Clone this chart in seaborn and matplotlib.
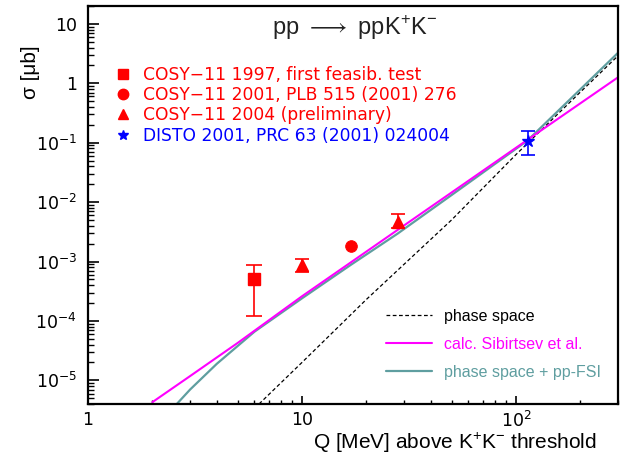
import matplotlib
matplotlib.use("Agg")
import matplotlib.pyplot as plt
from matplotlib.lines import Line2D
from matplotlib.ticker import FixedLocator, FixedFormatter, NullFormatter, LogLocator
import numpy as np
import pandas as pd
import seaborn as sns

# --- measured cross sections: Q [MeV], sigma [ub], lower / upper error bounds
cosy97_q = [6.0]
cosy97_sig = [5.0e-4]
cosy97_lo = [1.2e-4]
cosy97_hi = [8.8e-4]

cosy01_q = [17.0]
cosy01_sig = [1.8e-3]

cosy04_q = [10.0, 28.0]
cosy04_sig = [8.6e-4, 4.7e-3]
cosy04_lo = [6.7e-4, 3.7e-3]
cosy04_hi = [1.12e-3, 6.2e-3]

disto_q = [114.0]
disto_sig = [0.105]
disto_lo = [0.063]
disto_hi = [0.155]

# --- calculated curves
phase_q = [6.3, 10, 20, 50, 100, 200, 300]
phase_sig = [4.0e-6, 2.0e-5, 2.3e-4, 5.0e-3, 0.063, 0.71, 2.9]

sibirtsev_q = [2, 3, 5, 10, 20, 50, 100, 200, 300]
sibirtsev_sig = [4.3e-6, 1.18e-5, 4.25e-5, 2.6e-4, 1.47e-3, 1.45e-2, 8.2e-2, 0.46, 1.26]

fsi_q = [2.6, 3, 4, 6, 10, 17, 28, 57, 113, 200, 300]
fsi_sig = [4.0e-6, 7.0e-6, 1.9e-5, 6.6e-5, 2.4e-4, 8.9e-4, 2.95e-3, 1.84e-2, 0.108, 0.79, 3.26]

x_ticks = [1, 10, 100]
x_tick_labels = ["1", "10", r"$\mathregular{10^{2}}$"]
y_ticks = [1e-5, 1e-4, 1e-3, 1e-2, 1e-1, 1, 10]
y_tick_labels = [r"$\mathregular{10^{-5}}$", r"$\mathregular{10^{-4}}$",
                 r"$\mathregular{10^{-3}}$", r"$\mathregular{10^{-2}}$",
                 r"$\mathregular{10^{-1}}$", "1", "10"]

RED = "#ff0000"
BLUE = "#0000ff"
MAGENTA = "#ff00ff"
TEAL = "#5f9ea0"

sns.set_theme(style="white")
plt.rcParams["font.family"] = ["Liberation Sans", "DejaVu Sans"]
plt.rcParams["mathtext.fontset"] = "custom"
plt.rcParams["mathtext.rm"] = "Liberation Sans"

fig = plt.figure(figsize=(6.4, 4.57), dpi=100)
ax = fig.add_axes([88 / 640, 1 - 404 / 457, 530 / 640, 398 / 457])
ax.set_xscale("log")
ax.set_yscale("log")

curves = pd.concat([
    pd.DataFrame({"Q": phase_q, "sigma": phase_sig, "model": "phase space"}),
    pd.DataFrame({"Q": sibirtsev_q, "sigma": sibirtsev_sig, "model": "calc. Sibirtsev et al."}),
    pd.DataFrame({"Q": fsi_q, "sigma": fsi_sig, "model": "phase space + pp-FSI"}),
])
sns.lineplot(data=curves[curves.model == "phase space"], x="Q", y="sigma",
             color="black", lw=0.9, linestyle=(0, (3, 2)), estimator=None,
             sort=False, ax=ax, legend=False)
sns.lineplot(data=curves[curves.model == "phase space + pp-FSI"], x="Q", y="sigma",
             color=TEAL, lw=1.6, estimator=None, sort=False, ax=ax, legend=False)
sns.lineplot(data=curves[curves.model == "calc. Sibirtsev et al."], x="Q", y="sigma",
             color=MAGENTA, lw=1.5, estimator=None, sort=False, ax=ax, legend=False)


def asym_err(sig, lo, hi):
    sig = np.asarray(sig)
    return [sig - np.asarray(lo), np.asarray(hi) - sig]


ax.errorbar(cosy97_q, cosy97_sig, yerr=asym_err(cosy97_sig, cosy97_lo, cosy97_hi),
            fmt="s", color=RED, ms=9, elinewidth=1.2, capsize=6, capthick=1.2, zorder=5)
ax.errorbar(cosy04_q, cosy04_sig, yerr=asym_err(cosy04_sig, cosy04_lo, cosy04_hi),
            fmt="^", color=RED, ms=9, elinewidth=1.2, capsize=5, capthick=1.2, zorder=5)
sns.scatterplot(x=cosy01_q, y=cosy01_sig, marker="o", color=RED, s=70,
                edgecolor=RED, ax=ax, zorder=5)
ax.errorbar(disto_q, disto_sig, yerr=asym_err(disto_sig, disto_lo, disto_hi),
            fmt="*", color=BLUE, ms=9, elinewidth=1.2, capsize=5, capthick=1.2, zorder=6)

ax.set_xlim(1, 300)
ax.set_ylim(4e-6, 20)

ax.xaxis.set_major_locator(FixedLocator(x_ticks))
ax.xaxis.set_major_formatter(FixedFormatter(x_tick_labels))
ax.xaxis.set_minor_locator(LogLocator(base=10, subs=np.arange(2, 10), numticks=20))
ax.xaxis.set_minor_formatter(NullFormatter())
ax.yaxis.set_major_locator(FixedLocator(y_ticks))
ax.yaxis.set_major_formatter(FixedFormatter(y_tick_labels))
ax.yaxis.set_minor_locator(LogLocator(base=10, subs=np.arange(2, 10), numticks=20))
ax.yaxis.set_minor_formatter(NullFormatter())
ax.tick_params(axis="both", which="both", direction="in", colors="black",
               labelsize=12.5, labelfontfamily="DejaVu Sans",
               bottom=True, left=True, top=False, right=False)
ax.tick_params(axis="y", which="major", length=8, width=1.2, pad=8)
ax.tick_params(axis="y", which="minor", length=4.5, width=1.0)
ax.tick_params(axis="x", which="major", length=5.5, width=1.2, pad=5)
ax.tick_params(axis="x", which="minor", length=2.8, width=1.0)
for side in ["left", "right", "top", "bottom"]:
    ax.spines[side].set_visible(True)
    ax.spines[side].set_color("black")
    ax.spines[side].set_linewidth(1.6)

ax.set_xlabel("")
ax.set_ylabel("")
fig.text(597 / 640, 1 - 449 / 457, r"Q [MeV] above K$^{+}$K$^{-}$ threshold",
         ha="right", va="baseline", fontsize=15, color="black")
fig.text(30 / 640, 1 - 72 / 457, "σ [μb]", rotation=90, ha="center", va="center",
         fontsize=15, color="black")
ax.text(0.504, 0.945, r"pp $\longrightarrow$ ppK$^{+}$K$^{-}$", transform=ax.transAxes,
        ha="center", va="center", fontsize=17, color="#222222")

# data legend (markers only)
data_handles = [
    Line2D([], [], ls="none", marker="s", color=RED, ms=7.5),
    Line2D([], [], ls="none", marker="o", color=RED, ms=7.5),
    Line2D([], [], ls="none", marker="^", color=RED, ms=7.5),
    Line2D([], [], ls="none", marker="*", color=BLUE, ms=7.5),
]
data_labels = [
    "COSY−11 1997, first feasib. test",
    "COSY−11 2001, PLB 515 (2001) 276",
    "COSY−11 2004 (preliminary)",
    "DISTO 2001, PRC 63 (2001) 024004",
]
leg1 = ax.legend(data_handles, data_labels, loc="upper left",
                 bbox_to_anchor=((115 - 88) / 530, (404 - 66) / 398), frameon=False,
                 prop={"family": "DejaVu Sans", "size": 12.3},
                 handlelength=0.9, handletextpad=0.75, labelspacing=0.13,
                 borderaxespad=0, borderpad=0,
                 labelcolor=[RED, RED, RED, BLUE])
ax.add_artist(leg1)

# model legend (lines)
model_handles = [
    Line2D([], [], color="black", lw=0.9, ls=(0, (3, 2))),
    Line2D([], [], color=MAGENTA, lw=1.5),
    Line2D([], [], color=TEAL, lw=1.6),
]
model_labels = ["phase space", "calc. Sibirtsev et al.", "phase space + pp-FSI"]
ax.legend(model_handles, model_labels, loc="upper left",
          bbox_to_anchor=((386 - 88) / 530, (404 - 309) / 398), frameon=False,
          fontsize=11.5, handlelength=2.9, handletextpad=0.7, labelspacing=0.8,
          borderaxespad=0, borderpad=0,
          labelcolor=["black", MAGENTA, TEAL])

fig.savefig("out.png", dpi=100)
